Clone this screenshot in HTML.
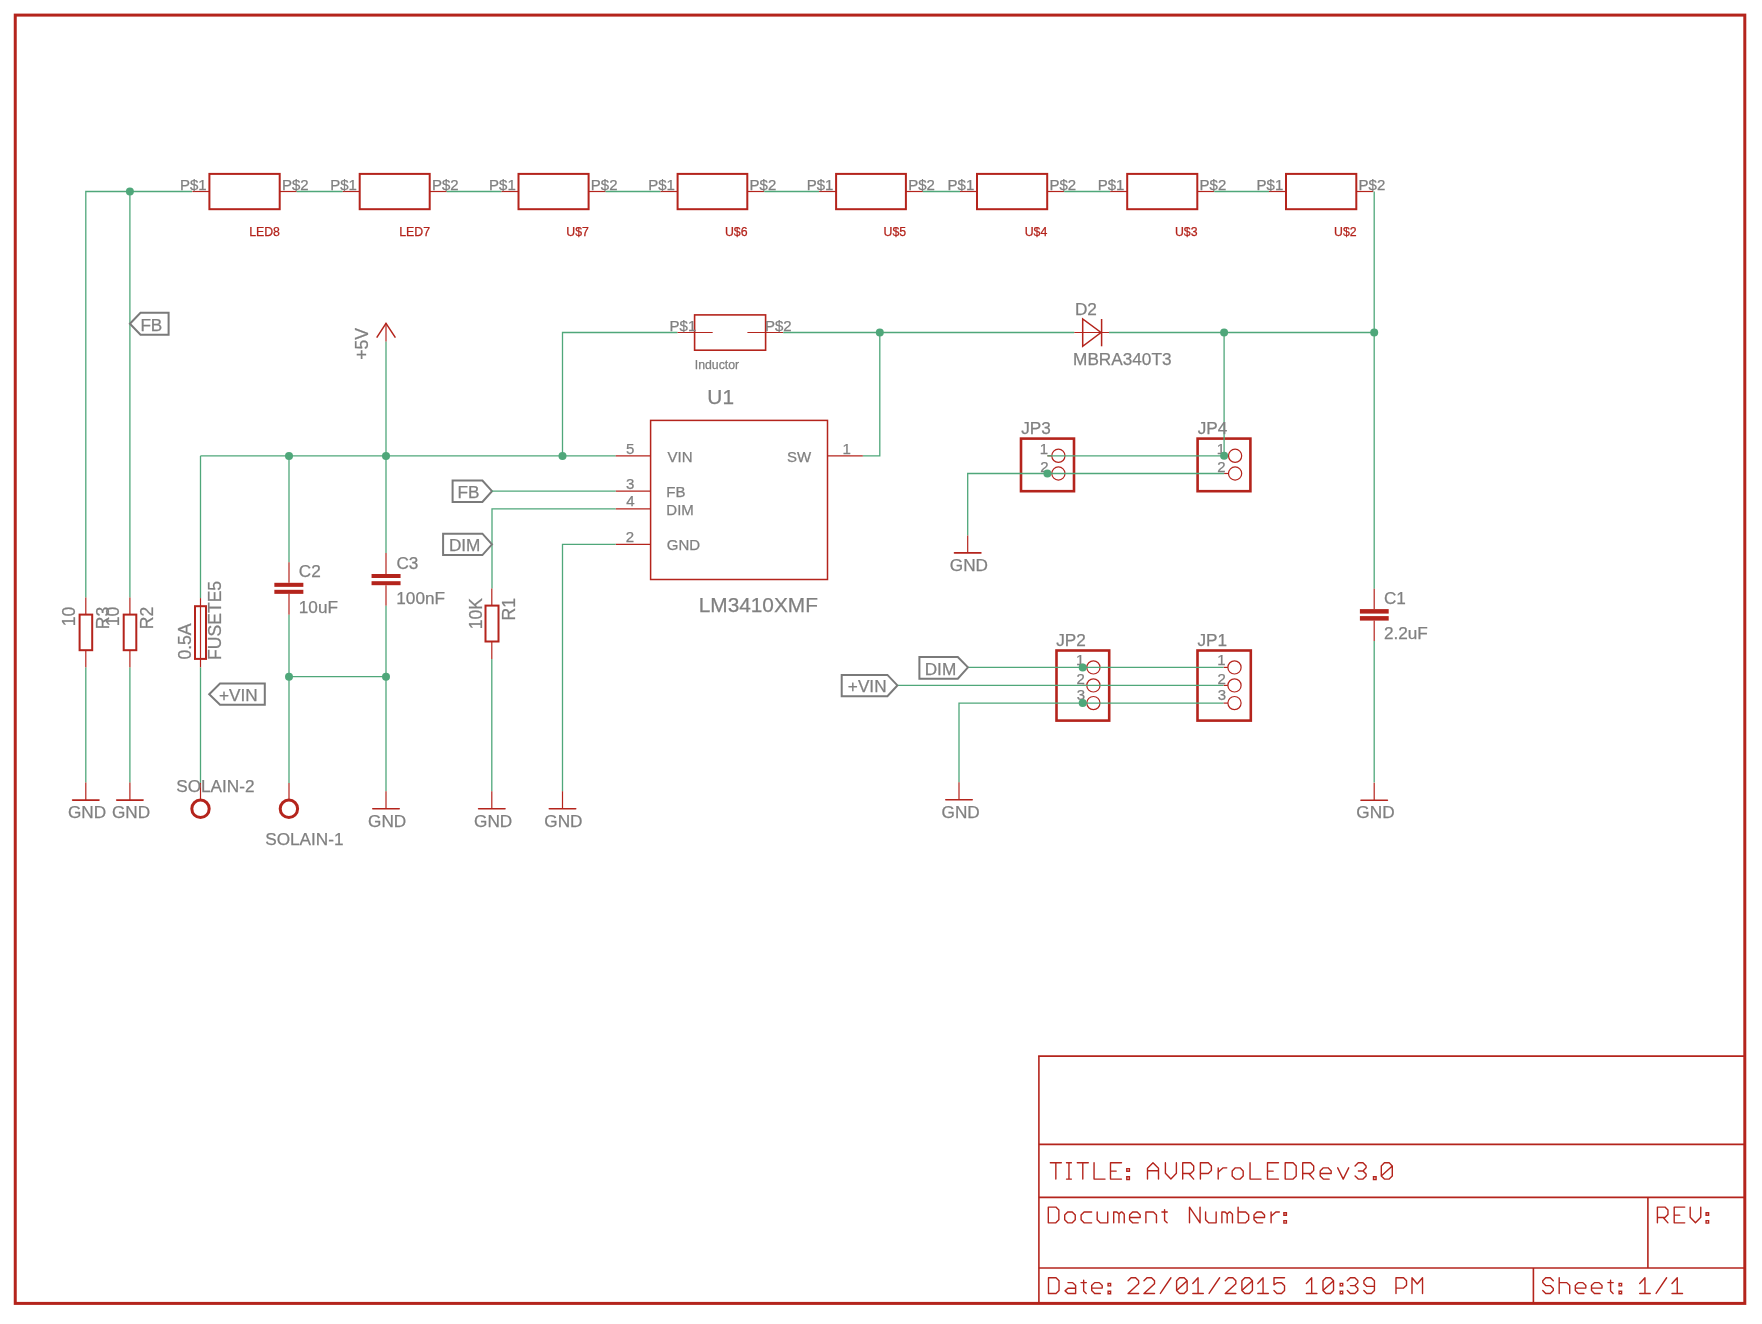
<!DOCTYPE html>
<html><head><meta charset="utf-8"><style>
html,body{margin:0;padding:0;background:#fff;width:1762px;height:1324px;overflow:hidden}
svg{display:block;will-change:transform}
text{font-family:"Liberation Sans",sans-serif}
</style></head><body>
<svg width="1762" height="1324" viewBox="0 0 1762 1324">
<rect width="1762" height="1324" fill="#fff"/>
<rect x="15.25" y="15.1" width="1729.55" height="1288.30" fill="none" stroke="#b4241c" stroke-width="3"/>
<line x1="1038.9" y1="1056.15" x2="1038.9" y2="1303.4" stroke="#b4241c" stroke-width="1.6"/>
<line x1="1038.1000000000001" y1="1056.15" x2="1744.8" y2="1056.15" stroke="#b4241c" stroke-width="1.6"/>
<line x1="1038.9" y1="1144.4" x2="1744.8" y2="1144.4" stroke="#b4241c" stroke-width="1.6"/>
<line x1="1038.9" y1="1197.4" x2="1744.8" y2="1197.4" stroke="#b4241c" stroke-width="1.6"/>
<line x1="1038.9" y1="1268.0" x2="1744.8" y2="1268.0" stroke="#b4241c" stroke-width="1.6"/>
<line x1="1647.9" y1="1197.4" x2="1647.9" y2="1268.0" stroke="#b4241c" stroke-width="1.6"/>
<line x1="1533.4" y1="1268.0" x2="1533.4" y2="1303.4" stroke="#b4241c" stroke-width="1.6"/>
<polyline points="85.8,597.5 85.8,191.5 192.0,191.5" fill="none" stroke="#4fa77a" stroke-width="1.3"/>
<line x1="192.39999999999998" y1="191.5" x2="209.39999999999998" y2="191.5" stroke="#b4241c" stroke-width="1.2"/>
<line x1="279.7" y1="191.5" x2="296.7" y2="191.5" stroke="#b4241c" stroke-width="1.2"/>
<rect x="209.39999999999998" y="173.9" width="70.30" height="35.30" fill="none" stroke="#b4241c" stroke-width="2"/>
<text x="249.17" y="235.90" font-size="12.3" fill="#b4241c" stroke="#b4241c" stroke-width="0.25">LED8</text>
<text x="179.97" y="189.80" font-size="15" fill="#808080" stroke="#808080" stroke-width="0.25">P$1</text>
<text x="281.97" y="189.80" font-size="15" fill="#808080" stroke="#808080" stroke-width="0.25">P$2</text>
<polyline points="296.7,191.5 342.7,191.5" fill="none" stroke="#4fa77a" stroke-width="1.3"/>
<line x1="342.7" y1="191.5" x2="359.7" y2="191.5" stroke="#b4241c" stroke-width="1.2"/>
<line x1="429.7" y1="191.5" x2="446.7" y2="191.5" stroke="#b4241c" stroke-width="1.2"/>
<rect x="359.7" y="173.9" width="70.00" height="35.30" fill="none" stroke="#b4241c" stroke-width="2"/>
<text x="399.25" y="235.90" font-size="12.3" fill="#b4241c" stroke="#b4241c" stroke-width="0.25">LED7</text>
<text x="330.27" y="189.80" font-size="15" fill="#808080" stroke="#808080" stroke-width="0.25">P$1</text>
<text x="431.97" y="189.80" font-size="15" fill="#808080" stroke="#808080" stroke-width="0.25">P$2</text>
<polyline points="446.7,191.5 501.5,191.5" fill="none" stroke="#4fa77a" stroke-width="1.3"/>
<line x1="501.5" y1="191.5" x2="518.5" y2="191.5" stroke="#b4241c" stroke-width="1.2"/>
<line x1="588.5999999999999" y1="191.5" x2="605.5999999999999" y2="191.5" stroke="#b4241c" stroke-width="1.2"/>
<rect x="518.5" y="173.9" width="70.10" height="35.30" fill="none" stroke="#b4241c" stroke-width="2"/>
<text x="566.35" y="235.90" font-size="12.3" fill="#b4241c" stroke="#b4241c" stroke-width="0.25">U$7</text>
<text x="489.07" y="189.80" font-size="15" fill="#808080" stroke="#808080" stroke-width="0.25">P$1</text>
<text x="590.87" y="189.80" font-size="15" fill="#808080" stroke="#808080" stroke-width="0.25">P$2</text>
<polyline points="605.5999999999999,191.5 660.6,191.5" fill="none" stroke="#4fa77a" stroke-width="1.3"/>
<line x1="660.6" y1="191.5" x2="677.6" y2="191.5" stroke="#b4241c" stroke-width="1.2"/>
<line x1="747.3" y1="191.5" x2="764.3" y2="191.5" stroke="#b4241c" stroke-width="1.2"/>
<rect x="677.6" y="173.9" width="69.70" height="35.30" fill="none" stroke="#b4241c" stroke-width="2"/>
<text x="724.98" y="235.90" font-size="12.3" fill="#b4241c" stroke="#b4241c" stroke-width="0.25">U$6</text>
<text x="648.17" y="189.80" font-size="15" fill="#808080" stroke="#808080" stroke-width="0.25">P$1</text>
<text x="749.57" y="189.80" font-size="15" fill="#808080" stroke="#808080" stroke-width="0.25">P$2</text>
<polyline points="764.3,191.5 819.1,191.5" fill="none" stroke="#4fa77a" stroke-width="1.3"/>
<line x1="819.1" y1="191.5" x2="836.1" y2="191.5" stroke="#b4241c" stroke-width="1.2"/>
<line x1="905.9" y1="191.5" x2="922.9" y2="191.5" stroke="#b4241c" stroke-width="1.2"/>
<rect x="836.1" y="173.9" width="69.80" height="35.30" fill="none" stroke="#b4241c" stroke-width="2"/>
<text x="883.55" y="235.90" font-size="12.3" fill="#b4241c" stroke="#b4241c" stroke-width="0.25">U$5</text>
<text x="806.67" y="189.80" font-size="15" fill="#808080" stroke="#808080" stroke-width="0.25">P$1</text>
<text x="908.17" y="189.80" font-size="15" fill="#808080" stroke="#808080" stroke-width="0.25">P$2</text>
<polyline points="922.9,191.5 960.0,191.5" fill="none" stroke="#4fa77a" stroke-width="1.3"/>
<line x1="960.0" y1="191.5" x2="977.0" y2="191.5" stroke="#b4241c" stroke-width="1.2"/>
<line x1="1047.2" y1="191.5" x2="1064.2" y2="191.5" stroke="#b4241c" stroke-width="1.2"/>
<rect x="977.0" y="173.9" width="70.20" height="35.30" fill="none" stroke="#b4241c" stroke-width="2"/>
<text x="1024.70" y="235.90" font-size="12.3" fill="#b4241c" stroke="#b4241c" stroke-width="0.25">U$4</text>
<text x="947.57" y="189.80" font-size="15" fill="#808080" stroke="#808080" stroke-width="0.25">P$1</text>
<text x="1049.47" y="189.80" font-size="15" fill="#808080" stroke="#808080" stroke-width="0.25">P$2</text>
<polyline points="1064.2,191.5 1110.2,191.5" fill="none" stroke="#4fa77a" stroke-width="1.3"/>
<line x1="1110.2" y1="191.5" x2="1127.2" y2="191.5" stroke="#b4241c" stroke-width="1.2"/>
<line x1="1197.3" y1="191.5" x2="1214.3" y2="191.5" stroke="#b4241c" stroke-width="1.2"/>
<rect x="1127.2" y="173.9" width="70.10" height="35.30" fill="none" stroke="#b4241c" stroke-width="2"/>
<text x="1174.98" y="235.90" font-size="12.3" fill="#b4241c" stroke="#b4241c" stroke-width="0.25">U$3</text>
<text x="1097.77" y="189.80" font-size="15" fill="#808080" stroke="#808080" stroke-width="0.25">P$1</text>
<text x="1199.57" y="189.80" font-size="15" fill="#808080" stroke="#808080" stroke-width="0.25">P$2</text>
<polyline points="1214.3,191.5 1269.0,191.5" fill="none" stroke="#4fa77a" stroke-width="1.3"/>
<line x1="1269.0" y1="191.5" x2="1286.0" y2="191.5" stroke="#b4241c" stroke-width="1.2"/>
<line x1="1356.3" y1="191.5" x2="1373.3" y2="191.5" stroke="#b4241c" stroke-width="1.2"/>
<rect x="1286.0" y="173.9" width="70.30" height="35.30" fill="none" stroke="#b4241c" stroke-width="2"/>
<text x="1334.05" y="235.90" font-size="12.3" fill="#b4241c" stroke="#b4241c" stroke-width="0.25">U$2</text>
<text x="1256.57" y="189.80" font-size="15" fill="#808080" stroke="#808080" stroke-width="0.25">P$1</text>
<text x="1358.57" y="189.80" font-size="15" fill="#808080" stroke="#808080" stroke-width="0.25">P$2</text>
<polyline points="1374.2,191.5 1374.2,588.7" fill="none" stroke="#4fa77a" stroke-width="1.3"/>
<polyline points="129.9,191.5 129.9,597.5" fill="none" stroke="#4fa77a" stroke-width="1.3"/>
<polygon points="129.9,323.7 140.5,312.7 168.6,312.7 168.6,334.7 140.5,334.7" fill="none" stroke="#7a7a7a" stroke-width="2" stroke-linejoin="miter"/>
<text x="140.39" y="330.60" font-size="17.2" fill="#808080" stroke="#808080" stroke-width="0.25">FB</text>
<line x1="85.8" y1="597.5" x2="85.8" y2="614.6" stroke="#b4241c" stroke-width="1.2"/>
<rect x="79.6" y="614.6" width="12.60" height="35.60" fill="none" stroke="#b4241c" stroke-width="2"/>
<line x1="85.8" y1="650.2" x2="85.8" y2="667.4" stroke="#b4241c" stroke-width="1.2"/>
<polyline points="85.8,667.4 85.8,782.5" fill="none" stroke="#4fa77a" stroke-width="1.3"/>
<line x1="85.8" y1="782.6" x2="85.8" y2="800.1" stroke="#b4241c" stroke-width="1.2"/>
<line x1="72.6" y1="800.1" x2="99.0" y2="800.1" stroke="#b4241c" stroke-width="1.6" stroke-linecap="round"/>
<text x="67.93" y="817.80" font-size="17.2" fill="#808080" stroke="#808080" stroke-width="0.25">GND</text>
<text x="0" y="0" font-size="17.6" fill="#808080" stroke="#808080" stroke-width="0.25" transform="translate(75.00 626.24) rotate(-90)">10</text>
<text x="0" y="0" font-size="17.6" fill="#808080" stroke="#808080" stroke-width="0.25" transform="translate(108.70 629.14) rotate(-90)">R3</text>
<line x1="129.9" y1="597.5" x2="129.9" y2="614.6" stroke="#b4241c" stroke-width="1.2"/>
<rect x="123.7" y="614.6" width="12.60" height="35.60" fill="none" stroke="#b4241c" stroke-width="2"/>
<line x1="129.9" y1="650.2" x2="129.9" y2="667.4" stroke="#b4241c" stroke-width="1.2"/>
<polyline points="129.9,667.4 129.9,782.5" fill="none" stroke="#4fa77a" stroke-width="1.3"/>
<line x1="129.9" y1="782.6" x2="129.9" y2="800.1" stroke="#b4241c" stroke-width="1.2"/>
<line x1="116.7" y1="800.1" x2="143.1" y2="800.1" stroke="#b4241c" stroke-width="1.6" stroke-linecap="round"/>
<text x="111.93" y="817.80" font-size="17.2" fill="#808080" stroke="#808080" stroke-width="0.25">GND</text>
<text x="0" y="0" font-size="17.6" fill="#808080" stroke="#808080" stroke-width="0.25" transform="translate(119.30 626.24) rotate(-90)">10</text>
<text x="0" y="0" font-size="17.6" fill="#808080" stroke="#808080" stroke-width="0.25" transform="translate(153.00 629.14) rotate(-90)">R2</text>
<polyline points="200.5,455.9 200.5,598.1" fill="none" stroke="#4fa77a" stroke-width="1.3"/>
<line x1="200.5" y1="598.1" x2="200.5" y2="667.4" stroke="#b4241c" stroke-width="1.2"/>
<rect x="195" y="606.2" width="11.00" height="52.70" fill="none" stroke="#b4241c" stroke-width="2"/>
<polyline points="200.5,667.4 200.5,782.9" fill="none" stroke="#4fa77a" stroke-width="1.3"/>
<line x1="200.5" y1="782.9" x2="200.5" y2="799.6" stroke="#b4241c" stroke-width="1.2"/>
<circle cx="200.5" cy="808.8" r="8.7" fill="none" stroke="#b4241c" stroke-width="3"/>
<text x="0" y="0" font-size="17.6" fill="#808080" stroke="#808080" stroke-width="0.25" transform="translate(191.10 659.59) rotate(-90)">0.5A</text>
<text x="0" y="0" font-size="17.6" fill="#808080" stroke="#808080" stroke-width="0.25" transform="translate(221.00 660.04) rotate(-90)">FUSETE5</text>
<text x="176.22" y="792.00" font-size="17.2" fill="#808080" stroke="#808080" stroke-width="0.25">SOLAIN-2</text>
<polygon points="209.2,694.2 220.0,683.5 264.8,683.5 264.8,704.8 220.0,704.8" fill="none" stroke="#7a7a7a" stroke-width="2" stroke-linejoin="miter"/>
<text x="218.96" y="700.50" font-size="17.2" fill="#808080" stroke="#808080" stroke-width="0.25">+VIN</text>
<polyline points="200.5,455.9 615.7,455.9" fill="none" stroke="#4fa77a" stroke-width="1.3"/>
<polyline points="289,455.9 289,562.2" fill="none" stroke="#4fa77a" stroke-width="1.3"/>
<line x1="289" y1="562.2" x2="289" y2="582.8" stroke="#b4241c" stroke-width="1.2"/>
<line x1="289" y1="593.8" x2="289" y2="614.7" stroke="#b4241c" stroke-width="1.2"/>
<rect x="274.35" y="582.8" width="29.00" height="4.05" fill="#b4241c"/>
<rect x="274.35" y="589.8" width="29.00" height="4.05" fill="#b4241c"/>
<polyline points="289,614.7 289,782.9" fill="none" stroke="#4fa77a" stroke-width="1.3"/>
<line x1="289" y1="782.9" x2="289" y2="799.6" stroke="#b4241c" stroke-width="1.2"/>
<circle cx="288.9" cy="808.8" r="8.7" fill="none" stroke="#b4241c" stroke-width="3"/>
<text x="298.73" y="576.80" font-size="17.2" fill="#808080" stroke="#808080" stroke-width="0.25">C2</text>
<text x="298.79" y="612.75" font-size="17.2" fill="#808080" stroke="#808080" stroke-width="0.25">10uF</text>
<text x="265.22" y="845.30" font-size="17.2" fill="#808080" stroke="#808080" stroke-width="0.25">SOLAIN-1</text>
<polyline points="289,676.7 386,676.7" fill="none" stroke="#4fa77a" stroke-width="1.3"/>
<polyline points="386,341.5 386,553.1" fill="none" stroke="#4fa77a" stroke-width="1.3"/>
<line x1="386" y1="341.5" x2="386" y2="323.3" stroke="#b4241c" stroke-width="1.2"/>
<polyline points="376.7,337.6 386,323.3 395.4,337.6" fill="none" stroke="#b4241c" stroke-width="1.5"/>
<text x="0" y="0" font-size="17.6" fill="#808080" stroke="#808080" stroke-width="0.25" transform="translate(368.20 359.76) rotate(-90)">+5V</text>
<line x1="386" y1="553.1" x2="386" y2="574" stroke="#b4241c" stroke-width="1.2"/>
<line x1="386" y1="585.2" x2="386" y2="605.8" stroke="#b4241c" stroke-width="1.2"/>
<rect x="371.55" y="574" width="29.00" height="4" fill="#b4241c"/>
<rect x="371.55" y="581.2" width="29.00" height="4" fill="#b4241c"/>
<polyline points="386,605.8 386,791.2" fill="none" stroke="#4fa77a" stroke-width="1.3"/>
<line x1="386" y1="791.2" x2="386" y2="808.7" stroke="#b4241c" stroke-width="1.2"/>
<line x1="372.8" y1="808.7" x2="399.2" y2="808.7" stroke="#b4241c" stroke-width="1.6" stroke-linecap="round"/>
<text x="368.03" y="826.90" font-size="17.2" fill="#808080" stroke="#808080" stroke-width="0.25">GND</text>
<text x="396.43" y="569.00" font-size="17.2" fill="#808080" stroke="#808080" stroke-width="0.25">C3</text>
<text x="396.29" y="604.00" font-size="17.2" fill="#808080" stroke="#808080" stroke-width="0.25">100nF</text>
<polyline points="562.5,455.9 562.5,332.5 677.5,332.5" fill="none" stroke="#4fa77a" stroke-width="1.3"/>
<line x1="677.5" y1="332.5" x2="712.7" y2="332.5" stroke="#b4241c" stroke-width="1.2"/>
<rect x="694.6" y="314.9" width="71.00" height="35.30" fill="none" stroke="#b4241c" stroke-width="1.6"/>
<line x1="747.4" y1="332.5" x2="783.2" y2="332.5" stroke="#b4241c" stroke-width="1.2"/>
<polyline points="783.2,332.5 1074.3,332.5" fill="none" stroke="#4fa77a" stroke-width="1.3"/>
<polyline points="879.8,332.5 879.8,455.9 862.8,455.9" fill="none" stroke="#4fa77a" stroke-width="1.3"/>
<text x="669.57" y="330.80" font-size="15" fill="#808080" stroke="#808080" stroke-width="0.25">P$1</text>
<text x="764.97" y="330.80" font-size="15" fill="#808080" stroke="#808080" stroke-width="0.25">P$2</text>
<text x="694.76" y="369.30" font-size="12.3" fill="#808080" stroke="#808080" stroke-width="0.25">Inductor</text>
<rect x="650.6" y="420.4" width="176.90" height="159.10" fill="none" stroke="#b4241c" stroke-width="1.5"/>
<text x="707.36" y="403.83" font-size="20.8" fill="#808080" stroke="#808080" stroke-width="0.25">U1</text>
<text x="698.79" y="612.40" font-size="20.8" fill="#808080" stroke="#808080" stroke-width="0.25">LM3410XMF</text>
<line x1="615.7" y1="455.9" x2="650.6" y2="455.9" stroke="#b4241c" stroke-width="1.2"/>
<text x="626.00" y="453.80" font-size="15" fill="#808080" stroke="#808080" stroke-width="0.25">5</text>
<text x="667.53" y="461.70" font-size="15" fill="#808080" stroke="#808080" stroke-width="0.25">VIN</text>
<line x1="615.7" y1="491.2" x2="650.6" y2="491.2" stroke="#b4241c" stroke-width="1.2"/>
<text x="626.03" y="488.90" font-size="15" fill="#808080" stroke="#808080" stroke-width="0.25">3</text>
<text x="666.37" y="496.70" font-size="15" fill="#808080" stroke="#808080" stroke-width="0.25">FB</text>
<line x1="615.7" y1="508.9" x2="650.6" y2="508.9" stroke="#b4241c" stroke-width="1.2"/>
<text x="626.26" y="506.30" font-size="15" fill="#808080" stroke="#808080" stroke-width="0.25">4</text>
<text x="666.37" y="514.60" font-size="15" fill="#808080" stroke="#808080" stroke-width="0.25">DIM</text>
<line x1="615.7" y1="544.3" x2="650.6" y2="544.3" stroke="#b4241c" stroke-width="1.2"/>
<text x="625.85" y="541.60" font-size="15" fill="#808080" stroke="#808080" stroke-width="0.25">2</text>
<text x="666.85" y="549.70" font-size="15" fill="#808080" stroke="#808080" stroke-width="0.25">GND</text>
<line x1="827.5" y1="455.9" x2="862.8" y2="455.9" stroke="#b4241c" stroke-width="1.2"/>
<text x="842.46" y="453.80" font-size="15" fill="#808080" stroke="#808080" stroke-width="0.25">1</text>
<text x="786.92" y="461.70" font-size="15" fill="#808080" stroke="#808080" stroke-width="0.25">SW</text>
<polygon points="492,491.2 482.4,480.5 452.6,480.5 452.6,502 482.4,502" fill="none" stroke="#7a7a7a" stroke-width="2" stroke-linejoin="miter"/>
<text x="457.59" y="497.90" font-size="17.2" fill="#808080" stroke="#808080" stroke-width="0.25">FB</text>
<polyline points="492,491.2 615.7,491.2" fill="none" stroke="#4fa77a" stroke-width="1.3"/>
<polyline points="615.7,508.9 492,508.9 492,588.5" fill="none" stroke="#4fa77a" stroke-width="1.3"/>
<polygon points="492,544.3 482.4,533.7 443.1,533.7 443.1,555.1 482.4,555.1" fill="none" stroke="#7a7a7a" stroke-width="2" stroke-linejoin="miter"/>
<text x="448.89" y="551.00" font-size="17.2" fill="#808080" stroke="#808080" stroke-width="0.25">DIM</text>
<line x1="491.8" y1="588.5" x2="491.8" y2="605.6" stroke="#b4241c" stroke-width="1.2"/>
<rect x="485.5" y="605.6" width="13.00" height="35.90" fill="none" stroke="#b4241c" stroke-width="2"/>
<line x1="491.8" y1="641.5" x2="491.8" y2="659" stroke="#b4241c" stroke-width="1.2"/>
<polyline points="491.8,659 491.8,791.2" fill="none" stroke="#4fa77a" stroke-width="1.3"/>
<line x1="491.8" y1="791.2" x2="491.8" y2="808.7" stroke="#b4241c" stroke-width="1.2"/>
<line x1="478.6" y1="808.7" x2="505.0" y2="808.7" stroke="#b4241c" stroke-width="1.6" stroke-linecap="round"/>
<text x="474.03" y="826.90" font-size="17.2" fill="#808080" stroke="#808080" stroke-width="0.25">GND</text>
<text x="0" y="0" font-size="17.6" fill="#808080" stroke="#808080" stroke-width="0.25" transform="translate(481.70 629.24) rotate(-90)">10K</text>
<text x="0" y="0" font-size="17.6" fill="#808080" stroke="#808080" stroke-width="0.25" transform="translate(515.00 620.44) rotate(-90)">R1</text>
<polyline points="615.7,544.3 562.5,544.3 562.5,791.2" fill="none" stroke="#4fa77a" stroke-width="1.3"/>
<line x1="562.5" y1="791.2" x2="562.5" y2="808.7" stroke="#b4241c" stroke-width="1.2"/>
<line x1="549.3" y1="808.7" x2="575.7" y2="808.7" stroke="#b4241c" stroke-width="1.6" stroke-linecap="round"/>
<text x="544.33" y="826.90" font-size="17.2" fill="#808080" stroke="#808080" stroke-width="0.25">GND</text>
<line x1="1074.3" y1="332.5" x2="1109" y2="332.5" stroke="#b4241c" stroke-width="1.2"/>
<polygon points="1082.7,319 1082.7,346.3 1101,332.5" fill="none" stroke="#b4241c" stroke-width="1.5"/>
<line x1="1101.6" y1="319" x2="1101.6" y2="346.3" stroke="#b4241c" stroke-width="1.5"/>
<polyline points="1109,332.5 1374.2,332.5" fill="none" stroke="#4fa77a" stroke-width="1.3"/>
<text x="1074.89" y="314.70" font-size="17.2" fill="#808080" stroke="#808080" stroke-width="0.25">D2</text>
<text x="1073.09" y="365.00" font-size="17.2" fill="#808080" stroke="#808080" stroke-width="0.25">MBRA340T3</text>
<rect x="1021" y="438.6" width="53.00" height="52.60" fill="none" stroke="#b4241c" stroke-width="2.6"/>
<rect x="1197.6" y="438.6" width="52.80" height="52.60" fill="none" stroke="#b4241c" stroke-width="2.6"/>
<circle cx="1058.4" cy="455.8" r="6.6" fill="none" stroke="#b4241c" stroke-width="1.2"/>
<circle cx="1058.4" cy="473.5" r="6.6" fill="none" stroke="#b4241c" stroke-width="1.2"/>
<line x1="1047.4" y1="455.8" x2="1051.8000000000002" y2="455.8" stroke="#b4241c" stroke-width="1.2"/>
<line x1="1047.4" y1="473.5" x2="1051.8000000000002" y2="473.5" stroke="#b4241c" stroke-width="1.2"/>
<circle cx="1235.1" cy="455.8" r="6.6" fill="none" stroke="#b4241c" stroke-width="1.2"/>
<circle cx="1235.1" cy="473.5" r="6.6" fill="none" stroke="#b4241c" stroke-width="1.2"/>
<line x1="1224.1" y1="455.8" x2="1228.5" y2="455.8" stroke="#b4241c" stroke-width="1.2"/>
<line x1="1224.1" y1="473.5" x2="1228.5" y2="473.5" stroke="#b4241c" stroke-width="1.2"/>
<polyline points="1047.4,455.8 1224.1,455.8" fill="none" stroke="#4fa77a" stroke-width="1.3"/>
<polyline points="967.7,535.4 967.7,473.5 1224.1,473.5" fill="none" stroke="#4fa77a" stroke-width="1.3"/>
<polyline points="1224.1,332.5 1224.1,455.8" fill="none" stroke="#4fa77a" stroke-width="1.3"/>
<line x1="967.7" y1="535.4" x2="967.7" y2="552.9" stroke="#b4241c" stroke-width="1.2"/>
<line x1="954.5" y1="552.9" x2="980.9000000000001" y2="552.9" stroke="#b4241c" stroke-width="1.6" stroke-linecap="round"/>
<text x="949.83" y="570.70" font-size="17.2" fill="#808080" stroke="#808080" stroke-width="0.25">GND</text>
<text x="1021.23" y="433.80" font-size="17.2" fill="#808080" stroke="#808080" stroke-width="0.25">JP3</text>
<text x="1197.73" y="433.80" font-size="17.2" fill="#808080" stroke="#808080" stroke-width="0.25">JP4</text>
<text x="1039.86" y="453.60" font-size="15" fill="#808080" stroke="#808080" stroke-width="0.25">1</text>
<text x="1040.25" y="471.70" font-size="15" fill="#808080" stroke="#808080" stroke-width="0.25">2</text>
<text x="1216.86" y="453.60" font-size="15" fill="#808080" stroke="#808080" stroke-width="0.25">1</text>
<text x="1217.25" y="471.70" font-size="15" fill="#808080" stroke="#808080" stroke-width="0.25">2</text>
<rect x="1056.5" y="650.5" width="52.70" height="70.10" fill="none" stroke="#b4241c" stroke-width="2.6"/>
<rect x="1197.5" y="650.5" width="53.30" height="70.10" fill="none" stroke="#b4241c" stroke-width="2.6"/>
<circle cx="1093.4" cy="667.4" r="6.6" fill="none" stroke="#b4241c" stroke-width="1.2"/>
<line x1="1082.4" y1="667.4" x2="1086.8000000000002" y2="667.4" stroke="#b4241c" stroke-width="1.2"/>
<circle cx="1093.4" cy="685.4" r="6.6" fill="none" stroke="#b4241c" stroke-width="1.2"/>
<line x1="1082.4" y1="685.4" x2="1086.8000000000002" y2="685.4" stroke="#b4241c" stroke-width="1.2"/>
<circle cx="1093.4" cy="703.1" r="6.6" fill="none" stroke="#b4241c" stroke-width="1.2"/>
<line x1="1082.4" y1="703.1" x2="1086.8000000000002" y2="703.1" stroke="#b4241c" stroke-width="1.2"/>
<circle cx="1234.5" cy="667.4" r="6.6" fill="none" stroke="#b4241c" stroke-width="1.2"/>
<line x1="1223.5" y1="667.4" x2="1227.9" y2="667.4" stroke="#b4241c" stroke-width="1.2"/>
<circle cx="1234.5" cy="685.4" r="6.6" fill="none" stroke="#b4241c" stroke-width="1.2"/>
<line x1="1223.5" y1="685.4" x2="1227.9" y2="685.4" stroke="#b4241c" stroke-width="1.2"/>
<circle cx="1234.5" cy="703.1" r="6.6" fill="none" stroke="#b4241c" stroke-width="1.2"/>
<line x1="1223.5" y1="703.1" x2="1227.9" y2="703.1" stroke="#b4241c" stroke-width="1.2"/>
<polyline points="968,667.4 1223.5,667.4" fill="none" stroke="#4fa77a" stroke-width="1.3"/>
<polyline points="897.4,685.4 1223.5,685.4" fill="none" stroke="#4fa77a" stroke-width="1.3"/>
<polyline points="959,782.3 959,703.1 1223.5,703.1" fill="none" stroke="#4fa77a" stroke-width="1.3"/>
<line x1="959" y1="782.3" x2="959" y2="799.8" stroke="#b4241c" stroke-width="1.2"/>
<line x1="945.8" y1="799.8" x2="972.2" y2="799.8" stroke="#b4241c" stroke-width="1.6" stroke-linecap="round"/>
<text x="941.53" y="818.00" font-size="17.2" fill="#808080" stroke="#808080" stroke-width="0.25">GND</text>
<polygon points="968,667.4 957.8,657 919.4,657 919.4,678.7 957.8,678.7" fill="none" stroke="#7a7a7a" stroke-width="2" stroke-linejoin="miter"/>
<text x="924.69" y="674.60" font-size="17.2" fill="#808080" stroke="#808080" stroke-width="0.25">DIM</text>
<polygon points="897.4,685.4 887.4,674.9 841.7,674.9 841.7,696.2 887.4,696.2" fill="none" stroke="#7a7a7a" stroke-width="2" stroke-linejoin="miter"/>
<text x="847.86" y="692.10" font-size="17.2" fill="#808080" stroke="#808080" stroke-width="0.25">+VIN</text>
<text x="1056.23" y="645.70" font-size="17.2" fill="#808080" stroke="#808080" stroke-width="0.25">JP2</text>
<text x="1197.53" y="645.70" font-size="17.2" fill="#808080" stroke="#808080" stroke-width="0.25">JP1</text>
<text x="1076.06" y="665.00" font-size="15" fill="#808080" stroke="#808080" stroke-width="0.25">1</text>
<text x="1076.45" y="683.70" font-size="15" fill="#808080" stroke="#808080" stroke-width="0.25">2</text>
<text x="1076.63" y="700.40" font-size="15" fill="#808080" stroke="#808080" stroke-width="0.25">3</text>
<text x="1217.16" y="665.00" font-size="15" fill="#808080" stroke="#808080" stroke-width="0.25">1</text>
<text x="1217.55" y="683.70" font-size="15" fill="#808080" stroke="#808080" stroke-width="0.25">2</text>
<text x="1217.73" y="700.40" font-size="15" fill="#808080" stroke="#808080" stroke-width="0.25">3</text>
<line x1="1374.2" y1="588.7" x2="1374.2" y2="609.3" stroke="#b4241c" stroke-width="1.2"/>
<line x1="1374.2" y1="620.6" x2="1374.2" y2="641.1" stroke="#b4241c" stroke-width="1.2"/>
<rect x="1359.90" y="609.1" width="28.80" height="4.5" fill="#b4241c"/>
<rect x="1359.90" y="616.1" width="28.80" height="4.5" fill="#b4241c"/>
<polyline points="1374.2,641.1 1374.2,782.5" fill="none" stroke="#4fa77a" stroke-width="1.3"/>
<line x1="1374.2" y1="782.7" x2="1374.2" y2="800.2" stroke="#b4241c" stroke-width="1.2"/>
<line x1="1361.0" y1="800.2" x2="1387.4" y2="800.2" stroke="#b4241c" stroke-width="1.6" stroke-linecap="round"/>
<text x="1356.37" y="817.84" font-size="17.2" fill="#808080" stroke="#808080" stroke-width="0.25">GND</text>
<text x="1383.93" y="603.80" font-size="17.2" fill="#808080" stroke="#808080" stroke-width="0.25">C1</text>
<text x="1383.93" y="638.70" font-size="17.2" fill="#808080" stroke="#808080" stroke-width="0.25">2.2uF</text>
<path d="M1050.35 1162.80 L1061.34 1162.80 M1055.84 1162.80 L1055.84 1179.10 M1066.50 1162.80 L1071.42 1162.80 M1066.50 1179.10 L1071.42 1179.10 M1068.96 1179.10 L1068.96 1162.80 M1077.30 1162.80 L1088.29 1162.80 M1082.79 1162.80 L1082.79 1179.10 M1094.05 1162.80 L1094.05 1179.10 L1105.04 1179.10 M1121.49 1162.80 L1110.50 1162.80 L1110.50 1179.10 L1121.49 1179.10 M1110.50 1171.11 L1116.21 1171.11 M1147.50 1179.10 L1147.50 1168.18 L1152.99 1162.80 L1158.49 1168.18 L1158.49 1179.10 M1147.50 1170.79 L1158.49 1170.79 M1165.40 1162.80 L1165.40 1173.23 L1170.89 1179.10 L1176.39 1173.23 L1176.39 1162.80 M1182.70 1179.10 L1182.70 1162.80 L1190.57 1162.80 L1193.69 1165.90 L1193.69 1170.46 L1190.57 1173.56 L1182.70 1173.56 M1188.74 1173.56 L1193.69 1179.10 M1200.40 1179.10 L1200.40 1162.80 L1208.27 1162.80 L1211.39 1165.90 L1211.39 1170.46 L1208.27 1173.56 L1200.40 1173.56 M1218.20 1179.10 L1218.20 1167.85 M1218.20 1172.25 L1223.14 1167.85 L1226.77 1167.85 M1235.32 1179.10 L1240.07 1179.10 L1243.19 1176.00 L1243.19 1170.95 L1240.07 1167.85 L1235.32 1167.85 L1232.20 1170.95 L1232.20 1176.00 L1235.32 1179.10 M1250.05 1162.80 L1250.05 1179.10 L1261.04 1179.10 M1278.49 1162.80 L1267.50 1162.80 L1267.50 1179.10 L1278.49 1179.10 M1267.50 1171.11 L1273.21 1171.11 M1285.20 1179.10 L1285.20 1162.80 L1293.07 1162.80 L1296.19 1165.90 L1296.19 1176.00 L1293.07 1179.10 L1285.20 1179.10 M1302.70 1179.10 L1302.70 1162.80 L1310.57 1162.80 L1313.69 1165.90 L1313.69 1170.46 L1310.57 1173.56 L1302.70 1173.56 M1308.74 1173.56 L1313.69 1179.10 M1320.20 1173.56 L1331.19 1173.56 L1331.19 1170.95 L1328.07 1167.85 L1323.32 1167.85 L1320.20 1170.95 L1320.20 1176.00 L1323.32 1179.10 L1329.21 1179.10 M1337.70 1167.85 L1343.19 1179.10 L1348.69 1167.85 M1355.10 1165.90 L1358.22 1162.80 L1362.97 1162.80 L1366.09 1165.90 L1366.09 1167.85 L1362.97 1170.95 L1358.40 1170.95 M1362.97 1170.95 L1366.09 1174.05 L1366.09 1176.00 L1362.97 1179.10 L1358.22 1179.10 L1355.10 1176.00 M1384.42 1179.10 L1389.17 1179.10 L1392.29 1176.00 L1392.29 1165.90 L1389.17 1162.80 L1384.42 1162.80 L1381.30 1165.90 L1381.30 1176.00 L1384.42 1179.10 M1381.30 1176.00 L1392.29 1165.90" fill="none" stroke="#b4241c" stroke-width="1.4" stroke-linecap="round" stroke-linejoin="round"/><path d="M1126.78 1179.43 L1129.41 1179.43 L1129.41 1176.82 L1126.78 1176.82 L1126.78 1179.43 Z M1126.78 1171.28 L1129.41 1171.28 L1129.41 1168.67 L1126.78 1168.67 L1126.78 1171.28 Z M1373.48 1179.43 L1376.11 1179.43 L1376.11 1176.82 L1373.48 1176.82 L1373.48 1179.43 Z" fill="none" stroke="#b4241c" stroke-width="1.4" stroke-linejoin="miter"/>
<path d="M1048.30 1222.85 L1048.30 1207.10 L1055.86 1207.10 L1058.85 1210.09 L1058.85 1219.86 L1055.86 1222.85 L1048.30 1222.85 M1067.69 1222.85 L1072.26 1222.85 L1075.25 1219.86 L1075.25 1214.97 L1072.26 1211.98 L1067.69 1211.98 L1064.70 1214.97 L1064.70 1219.86 L1067.69 1222.85 M1091.65 1211.98 L1084.09 1211.98 L1081.10 1214.97 L1081.10 1219.86 L1084.09 1222.85 L1091.65 1222.85 M1097.20 1211.98 L1097.20 1219.86 L1100.19 1222.85 L1107.75 1222.85 M1107.75 1211.98 L1107.75 1222.85 M1113.70 1222.85 L1113.70 1211.98 M1113.70 1211.98 L1116.87 1211.98 L1118.98 1214.03 L1118.98 1222.85 M1118.98 1214.03 L1121.09 1211.98 L1122.05 1211.98 L1124.25 1214.19 L1124.25 1222.85 M1129.60 1217.49 L1140.15 1217.49 L1140.15 1214.97 L1137.16 1211.98 L1132.59 1211.98 L1129.60 1214.97 L1129.60 1219.86 L1132.59 1222.85 L1138.25 1222.85 M1145.90 1222.85 L1145.90 1211.98 L1153.46 1211.98 L1156.45 1214.97 L1156.45 1222.85 M1161.90 1211.98 L1167.26 1211.98 M1164.58 1209.62 L1164.58 1220.49 L1167.10 1222.85 M1189.50 1222.85 L1189.50 1207.10 L1200.05 1222.85 L1200.05 1207.10 M1205.60 1211.98 L1205.60 1219.86 L1208.59 1222.85 L1216.15 1222.85 M1216.15 1211.98 L1216.15 1222.85 M1221.90 1222.85 L1221.90 1211.98 M1221.90 1211.98 L1225.07 1211.98 L1227.18 1214.03 L1227.18 1222.85 M1227.18 1214.03 L1229.29 1211.98 L1230.25 1211.98 L1232.45 1214.19 L1232.45 1222.85 M1238.10 1207.10 L1238.10 1222.85 L1245.66 1222.85 L1248.65 1219.86 L1248.65 1214.97 L1245.66 1211.98 L1238.10 1211.98 M1254.00 1217.49 L1264.55 1217.49 L1264.55 1214.97 L1261.56 1211.98 L1256.99 1211.98 L1254.00 1214.97 L1254.00 1219.86 L1256.99 1222.85 L1262.65 1222.85 M1271.10 1222.85 L1271.10 1211.98 M1271.10 1216.23 L1275.85 1211.98 L1279.33 1211.98" fill="none" stroke="#b4241c" stroke-width="1.4" stroke-linecap="round" stroke-linejoin="round"/><path d="M1283.88 1223.16 L1286.40 1223.16 L1286.40 1220.64 L1283.88 1220.64 L1283.88 1223.16 Z M1283.88 1215.29 L1286.40 1215.29 L1286.40 1212.77 L1283.88 1212.77 L1283.88 1215.29 Z" fill="none" stroke="#b4241c" stroke-width="1.4" stroke-linejoin="miter"/>
<path d="M1657.40 1222.85 L1657.40 1207.10 L1664.96 1207.10 L1667.95 1210.09 L1667.95 1214.50 L1664.96 1217.49 L1657.40 1217.49 M1663.20 1217.49 L1667.95 1222.85 M1684.75 1207.10 L1674.20 1207.10 L1674.20 1222.85 L1684.75 1222.85 M1674.20 1215.13 L1679.69 1215.13 M1690.20 1207.10 L1690.20 1217.18 L1695.48 1222.85 L1700.75 1217.18 L1700.75 1207.10" fill="none" stroke="#b4241c" stroke-width="1.4" stroke-linecap="round" stroke-linejoin="round"/><path d="M1706.08 1223.16 L1708.60 1223.16 L1708.60 1220.64 L1706.08 1220.64 L1706.08 1223.16 Z M1706.08 1215.29 L1708.60 1215.29 L1708.60 1212.77 L1706.08 1212.77 L1706.08 1215.29 Z" fill="none" stroke="#b4241c" stroke-width="1.4" stroke-linejoin="miter"/>
<path d="M1048.50 1293.45 L1048.50 1277.75 L1056.04 1277.75 L1059.02 1280.73 L1059.02 1290.47 L1056.04 1293.45 L1048.50 1293.45 M1067.94 1282.62 L1072.64 1282.62 L1075.62 1285.60 L1075.62 1293.45 M1075.62 1288.27 L1067.93 1288.27 L1065.10 1290.86 L1067.93 1293.45 L1075.62 1293.45 M1081.00 1282.62 L1086.34 1282.62 M1083.67 1280.26 L1083.67 1291.10 L1086.18 1293.45 M1091.70 1288.11 L1102.22 1288.11 L1102.22 1285.60 L1099.24 1282.62 L1094.68 1282.62 L1091.70 1285.60 L1091.70 1290.47 L1094.68 1293.45 L1100.33 1293.45 M1128.10 1280.73 L1131.08 1277.75 L1135.64 1277.75 L1138.62 1280.73 L1138.62 1283.72 L1128.10 1293.45 L1138.62 1293.45 M1144.00 1280.73 L1146.98 1277.75 L1151.54 1277.75 L1154.52 1280.73 L1154.52 1283.72 L1144.00 1293.45 L1154.52 1293.45 M1160.40 1293.45 L1170.92 1277.75 M1179.58 1293.45 L1184.14 1293.45 L1187.12 1290.47 L1187.12 1280.73 L1184.14 1277.75 L1179.58 1277.75 L1176.60 1280.73 L1176.60 1290.47 L1179.58 1293.45 M1176.60 1290.47 L1187.12 1280.73 M1192.80 1283.56 L1198.06 1277.75 L1198.06 1293.45 M1192.80 1293.45 L1203.32 1293.45 M1209.10 1293.45 L1219.62 1277.75 M1225.30 1280.73 L1228.28 1277.75 L1232.84 1277.75 L1235.82 1280.73 L1235.82 1283.72 L1225.30 1293.45 L1235.82 1293.45 M1244.88 1293.45 L1249.44 1293.45 L1252.42 1290.47 L1252.42 1280.73 L1249.44 1277.75 L1244.88 1277.75 L1241.90 1280.73 L1241.90 1290.47 L1244.88 1293.45 M1241.90 1290.47 L1252.42 1280.73 M1257.80 1283.56 L1263.06 1277.75 L1263.06 1293.45 M1257.80 1293.45 L1268.32 1293.45 M1284.52 1277.75 L1274.00 1277.75 L1274.00 1284.82 L1277.14 1282.77 L1281.54 1282.77 L1284.52 1285.76 L1284.52 1290.47 L1281.54 1293.45 L1276.98 1293.45 L1274.00 1290.47 M1306.40 1283.56 L1311.66 1277.75 L1311.66 1293.45 M1306.40 1293.45 L1316.92 1293.45 M1325.98 1293.45 L1330.54 1293.45 L1333.52 1290.47 L1333.52 1280.73 L1330.54 1277.75 L1325.98 1277.75 L1323.00 1280.73 L1323.00 1290.47 L1325.98 1293.45 M1323.00 1290.47 L1333.52 1280.73 M1347.30 1280.73 L1350.28 1277.75 L1354.84 1277.75 L1357.82 1280.73 L1357.82 1282.62 L1354.84 1285.60 L1350.46 1285.60 M1354.84 1285.60 L1357.82 1288.58 L1357.82 1290.47 L1354.84 1293.45 L1350.28 1293.45 L1347.30 1290.47 M1374.42 1286.38 L1366.88 1286.38 L1363.90 1283.40 L1363.90 1280.73 L1366.88 1277.75 L1371.44 1277.75 L1374.42 1280.73 L1374.42 1290.47 L1371.44 1293.45 L1366.88 1293.45 L1363.90 1290.47 M1396.00 1293.45 L1396.00 1277.75 L1403.54 1277.75 L1406.52 1280.73 L1406.52 1285.13 L1403.54 1288.11 L1396.00 1288.11 M1412.00 1293.45 L1412.00 1277.75 L1417.26 1284.03 L1422.52 1277.75 L1422.52 1293.45" fill="none" stroke="#b4241c" stroke-width="1.4" stroke-linecap="round" stroke-linejoin="round"/><path d="M1108.08 1293.76 L1110.59 1293.76 L1110.59 1291.25 L1108.08 1291.25 L1108.08 1293.76 Z M1108.08 1285.91 L1110.59 1285.91 L1110.59 1283.40 L1108.08 1283.40 L1108.08 1285.91 Z M1340.18 1293.76 L1342.69 1293.76 L1342.69 1291.25 L1340.18 1291.25 L1340.18 1293.76 Z M1340.18 1285.91 L1342.69 1285.91 L1342.69 1283.40 L1340.18 1283.40 L1340.18 1285.91 Z" fill="none" stroke="#b4241c" stroke-width="1.4" stroke-linejoin="miter"/>
<path d="M1553.28 1280.73 L1550.30 1277.75 L1545.74 1277.75 L1542.76 1280.73 L1542.76 1282.62 L1545.74 1285.60 L1550.30 1285.60 L1553.28 1288.58 L1553.28 1290.47 L1550.30 1293.45 L1545.74 1293.45 L1542.76 1290.47 M1559.20 1277.75 L1559.20 1293.45 M1559.20 1282.62 L1566.74 1282.62 L1569.72 1285.60 L1569.72 1293.45 M1575.30 1288.11 L1585.82 1288.11 L1585.82 1285.60 L1582.84 1282.62 L1578.28 1282.62 L1575.30 1285.60 L1575.30 1290.47 L1578.28 1293.45 L1583.93 1293.45 M1591.50 1288.11 L1602.02 1288.11 L1602.02 1285.60 L1599.04 1282.62 L1594.48 1282.62 L1591.50 1285.60 L1591.50 1290.47 L1594.48 1293.45 L1600.13 1293.45 M1607.90 1282.62 L1613.24 1282.62 M1610.57 1280.26 L1610.57 1291.10 L1613.08 1293.45 M1639.70 1283.56 L1644.96 1277.75 L1644.96 1293.45 M1639.70 1293.45 L1650.22 1293.45 M1656.10 1293.45 L1666.62 1277.75 M1672.00 1283.56 L1677.26 1277.75 L1677.26 1293.45 M1672.00 1293.45 L1682.52 1293.45" fill="none" stroke="#b4241c" stroke-width="1.4" stroke-linecap="round" stroke-linejoin="round"/><path d="M1619.08 1293.76 L1621.59 1293.76 L1621.59 1291.25 L1619.08 1291.25 L1619.08 1293.76 Z M1619.08 1285.91 L1621.59 1285.91 L1621.59 1283.40 L1619.08 1283.40 L1619.08 1285.91 Z" fill="none" stroke="#b4241c" stroke-width="1.4" stroke-linejoin="miter"/>
<circle cx="129.9" cy="191.5" r="4" fill="#4fa77a"/>
<circle cx="289" cy="455.9" r="4" fill="#4fa77a"/>
<circle cx="386" cy="455.9" r="4" fill="#4fa77a"/>
<circle cx="562.5" cy="455.9" r="4" fill="#4fa77a"/>
<circle cx="289" cy="676.7" r="4" fill="#4fa77a"/>
<circle cx="386" cy="676.7" r="4" fill="#4fa77a"/>
<circle cx="879.8" cy="332.5" r="4" fill="#4fa77a"/>
<circle cx="1224.1" cy="332.5" r="4" fill="#4fa77a"/>
<circle cx="1374.2" cy="332.5" r="4" fill="#4fa77a"/>
<circle cx="1224.1" cy="455.8" r="4" fill="#4fa77a"/>
<circle cx="1047.4" cy="473.5" r="4" fill="#4fa77a"/>
<circle cx="1082.7" cy="667.4" r="4" fill="#4fa77a"/>
<circle cx="1082.7" cy="703.1" r="4" fill="#4fa77a"/>
</svg></body></html>
